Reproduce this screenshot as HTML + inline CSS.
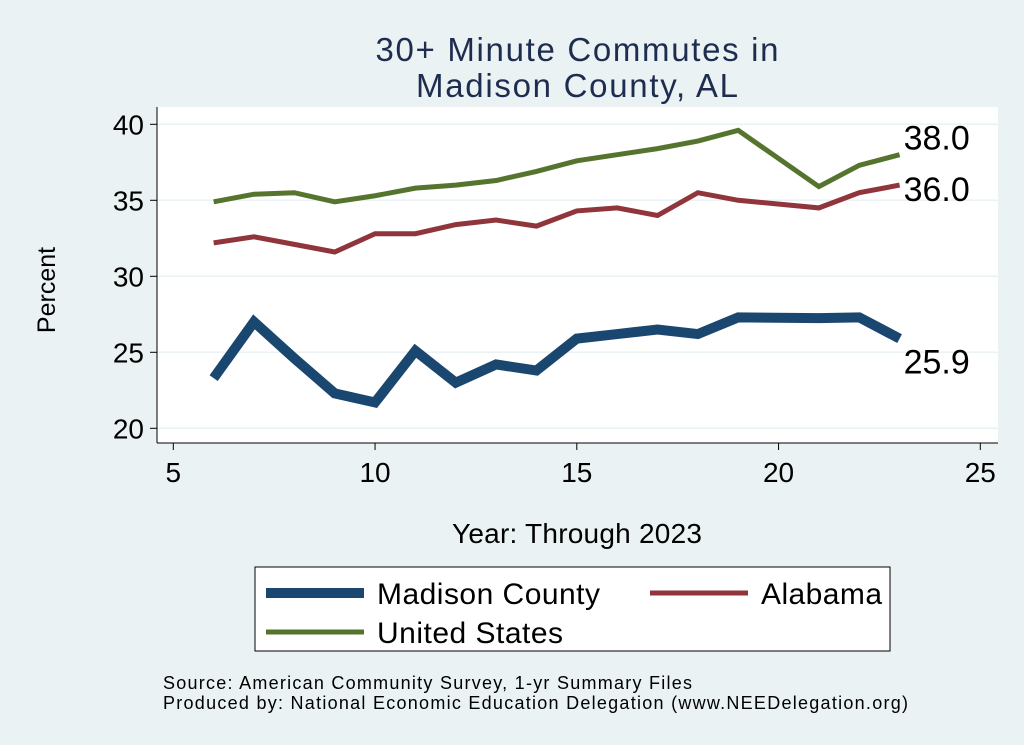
<!DOCTYPE html>
<html><head><meta charset="utf-8"><style>
body{margin:0;background:#eaf2f3;}
svg{display:block;font-family:"Liberation Sans",Arial,sans-serif;}
</style></head><body>
<svg width="1024" height="745" viewBox="0 0 1024 745">
<rect x="0" y="0" width="1024" height="745" fill="#eaf2f3"/>
<rect x="157" y="107" width="841" height="336" fill="#ffffff"/>
<g id="grid"></g>
<g id="axes"></g>
<g id="series"></g>
<text x="577" y="61" font-size="33" fill="#1e2d4f" text-anchor="middle" textLength="403">30+ Minute Commutes in</text>
<text x="577" y="97" font-size="33" fill="#1e2d4f" text-anchor="middle" textLength="322">Madison County, AL</text>
<text transform="translate(55,290) rotate(-90)" font-size="25" fill="#000" text-anchor="middle">Percent</text>
<text x="577" y="543" font-size="28" fill="#000" text-anchor="middle" textLength="250">Year: Through 2023</text>
<g>
<rect x="255" y="567" width="635" height="84" fill="#fff" stroke="#000" stroke-width="1"/>
<line x1="266" y1="593" x2="364" y2="593" stroke="#1a476f" stroke-width="10"/>
<text x="377" y="604" font-size="30" textLength="223">Madison County</text>
<line x1="650" y1="593" x2="748" y2="593" stroke="#90353b" stroke-width="5"/>
<text x="761" y="604" font-size="30" textLength="121">Alabama</text>
<line x1="266" y1="632" x2="364" y2="632" stroke="#55752f" stroke-width="5"/>
<text x="377" y="643" font-size="30" textLength="186">United States</text>
</g>
<text x="163" y="689" font-size="18" textLength="529">Source: American Community Survey, 1-yr Summary Files</text>
<text x="163" y="709" font-size="18" textLength="745">Produced by: National Economic Education Delegation (www.NEEDelegation.org)</text>
</svg>
<script>
const years=[6,7,8,9,10,11,12,13,14,15,16,17,18,19,21,22,23];
const madison=[23.3,27.0,24.6,22.3,21.7,25.1,23.0,24.2,23.8,25.9,26.2,26.5,26.2,27.3,27.25,27.3,25.9];
const alabama=[32.2,32.6,32.1,31.6,32.8,32.8,33.4,33.7,33.3,34.3,34.5,34.0,35.5,35.0,34.5,35.5,36.0];
const us=[34.9,35.4,35.5,34.9,35.3,35.8,36.0,36.3,36.9,37.6,38.0,38.4,38.9,39.6,35.9,37.3,38.0];
const yTicks=[20,25,30,35,40];
const xTicks=[5,10,15,20,25];
const NS="http://www.w3.org/2000/svg";
const X=v=>173.3+(v-5)*40.35;
const Y=v=>428.3-(v-20)*15.2;
function mk(t,a,p){const e=document.createElementNS(NS,t);for(const k in a)e.setAttribute(k,a[k]);p.appendChild(e);return e;}
const grid=document.getElementById('grid'),axes=document.getElementById('axes'),ser=document.getElementById('series');
yTicks.forEach(t=>{
 const g=mk('line',{x1:157,x2:998,y1:Y(t),y2:Y(t),stroke:'#eaf2f3','stroke-width':1.5},grid);
 
 
 const tk=mk('line',{x1:150,x2:157,y1:Y(t),y2:Y(t),stroke:'#000'},axes);
 
 
 const tx=mk('text',{x:144,y:Y(t)+10,'font-size':28,'text-anchor':'end'},axes);tx.textContent=t;
 
 
});
xTicks.forEach(t=>{
 const tk=mk('line',{x1:X(t),x2:X(t),y1:443,y2:450,stroke:'#000'},axes);
 
 
 const tx=mk('text',{x:X(t),y:482,'font-size':28,'text-anchor':'middle'},axes);tx.textContent=t;
 
 
});
const ya=mk('line',{x1:157,x2:157,y1:107,y2:443,stroke:'#000'},axes);


const xa=mk('line',{x1:157,x2:998,y1:443,y2:443,stroke:'#000'},axes);


const defs=[[us,'#55752f',5,'line-us',-5],[alabama,'#90353b',5,'line-alabama',16],[madison,'#1a476f',10,'line-madison',35]];
defs.forEach(([d,c,w,n,dy])=>{
 const p=mk('polyline',{points:years.map((y,j)=>X(y)+','+Y(d[j])).join(' '),fill:'none',stroke:c,'stroke-width':w,'stroke-linejoin':'miter'},ser);
 
 
 const last=d[d.length-1];
 const tx=mk('text',{x:X(years[years.length-1])+4,y:Y(last)+dy,'font-size':34},ser);
 tx.textContent=last.toFixed(1);
 
 
});
</script>
</body></html>
